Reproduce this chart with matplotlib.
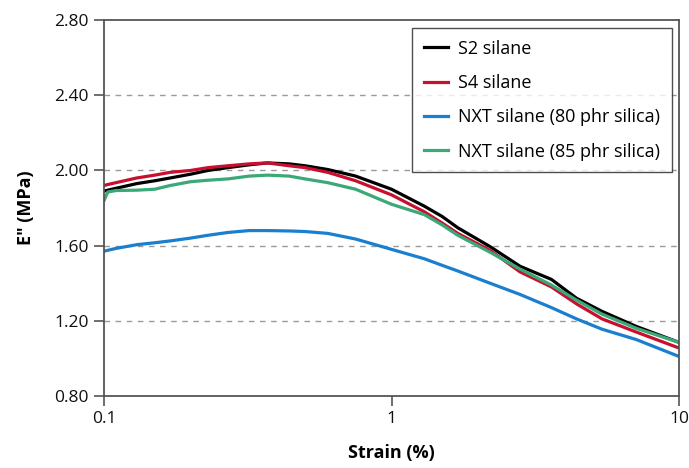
import numpy as np
import matplotlib
matplotlib.use("Agg")
import matplotlib.pyplot as plt
from matplotlib.ticker import FixedLocator, FixedFormatter, NullLocator

plt.rcParams['font.family'] = ['Open Sans', 'DejaVu Sans']

# strain (%) shared by all curves
strain = [0.100, 0.103, 0.11, 0.13, 0.15, 0.17, 0.20, 0.23, 0.27, 0.32, 0.37, 0.44,
          0.50, 0.60, 0.75, 1.0, 1.3, 1.5, 1.7, 2.2, 2.8, 3.6, 4.4, 5.4, 7.1, 10.0]

s2 = [1.89, 1.895, 1.905, 1.93, 1.945, 1.96, 1.98, 2.00, 2.015, 2.03, 2.04, 2.035,
      2.025, 2.005, 1.97, 1.90, 1.81, 1.755, 1.695, 1.595, 1.49, 1.42, 1.32, 1.25, 1.17, 1.085]
s4 = [1.92, 1.925, 1.935, 1.96, 1.975, 1.99, 2.00, 2.015, 2.025, 2.035, 2.04, 2.025,
      2.015, 1.99, 1.945, 1.87, 1.78, 1.72, 1.665, 1.575, 1.46, 1.38, 1.29, 1.21, 1.14, 1.055]
nxt80 = [1.57, 1.575, 1.585, 1.605, 1.615, 1.625, 1.64, 1.655, 1.67, 1.68, 1.68, 1.678,
         1.675, 1.665, 1.635, 1.58, 1.53, 1.495, 1.465, 1.40, 1.34, 1.27, 1.21, 1.155, 1.10, 1.01]
nxt85 = [1.84, 1.885, 1.893, 1.895, 1.90, 1.92, 1.94, 1.948, 1.955, 1.97, 1.975, 1.97,
         1.955, 1.935, 1.90, 1.82, 1.765, 1.71, 1.655, 1.565, 1.475, 1.39, 1.31, 1.235, 1.16, 1.085]

labels = ['S2 silane', 'S4 silane', 'NXT silane (80 phr silica)', 'NXT silane (85 phr silica)']
colors = ['#000000', '#c8102e', '#1a7fcf', '#3aa977']

yticks = [0.80, 1.20, 1.60, 2.00, 2.40, 2.80]
xticks = [0.1, 1, 10]

fig = plt.figure(figsize=(6.89, 4.68), dpi=100)
ax = fig.add_axes([0.151, 0.154, 0.8345, 0.803])

for ys, lab, c in zip([s2, s4, nxt80, nxt85], labels, colors):
    ax.plot(strain, ys, color=c, lw=2.3, label=lab, solid_joinstyle='round')

ax.set_xscale('log')
ax.set_xlim(0.1, 10)
ax.set_ylim(0.8, 2.8)
ax.xaxis.set_major_locator(FixedLocator(xticks))
ax.xaxis.set_major_formatter(FixedFormatter(['0.1', '1', '10']))
ax.xaxis.set_minor_locator(NullLocator())
ax.set_yticks(yticks)
ax.set_yticklabels(['%.2f' % v for v in yticks])

for v in yticks[1:-1]:
    ax.axhline(v, color='#9a9a9a', lw=1.0, ls=(0, (4, 4)), zorder=0)

for s in ax.spines.values():
    s.set_color('#555555')
    s.set_linewidth(1.3)

ax.tick_params(axis='both', direction='out', length=7, width=1.2, color='#555555',
               labelsize=12.5, labelcolor='#111111', pad=4)

ax.set_xlabel('Strain (%)', fontsize=13, fontweight='bold', labelpad=12)
ax.set_ylabel('E" (MPa)', fontsize=13, fontweight='bold', labelpad=14)

leg = ax.legend(loc='upper right', bbox_to_anchor=(0.988, 0.979), fontsize=13,
                frameon=True, fancybox=False, handlelength=1.35, handletextpad=0.55,
                borderpad=0.65, labelspacing=0.9, borderaxespad=0)
leg.get_frame().set_edgecolor('#222222')
leg.get_frame().set_linewidth(1.0)

fig.savefig('out.png', dpi=100)
